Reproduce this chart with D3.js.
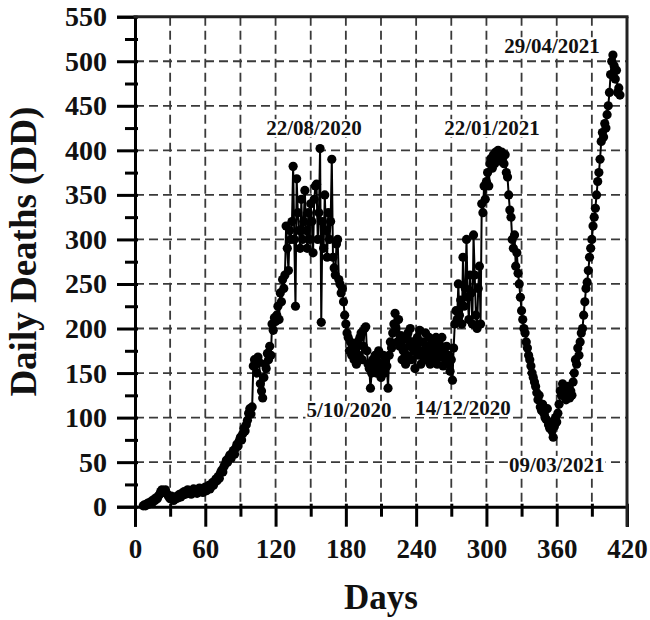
<!DOCTYPE html>
<html><head><meta charset="utf-8">
<script src="https://cdn.jsdelivr.net/npm/d3@7/dist/d3.min.js"></script>
<style>
body{margin:0;background:#fff}
svg{display:block}
text{font-family:"Liberation Serif","Times New Roman",serif;font-weight:bold;fill:#111}
</style>
</head><body>
<svg id="c" width="650" height="620"></svg>
<script>
// ---------------- data ----------------
const startDay = 7; // first day plotted (one value per day)
const deaths = [
  1, 2, 1, 3, 4, 3, 5, 6, 5, 8,            // 7-16
  7, 10, 9, 12, 14, 17, 19, 18, 16, 19,    // 17-26
  15, 13, 11, 9, 12, 8, 7, 10, 9, 12,      // 27-36
  10, 14, 11, 15, 13, 17, 14, 16, 19, 15,  // 37-46
  18, 14, 17, 20, 16, 19, 15, 18, 21, 17,  // 47-56
  20, 16, 19, 22, 18, 21, 24, 20, 23, 27,  // 57-66
  24, 28, 31, 29, 34, 32, 38, 41, 39, 45,  // 67-76
  48, 52, 50, 55, 58, 54, 60, 63, 59, 66,  // 77-86
  70, 68, 74, 78, 75, 82, 88, 85, 92, 97,  // 87-96
  105, 110, 104, 112, 158, 165, 160, 150, 168, 162, // 97-106
  138, 130, 122, 145, 160, 155, 172, 165, 180, 170, // 107-116
  205, 198, 212, 208, 215, 225, 210, 240, 230, 255, // 117-126
  245, 260, 315, 290, 265, 310, 300, 320, 382, 300, // 127-136
  225, 368, 330, 310, 290, 345, 300, 320, 355, 310, // 137-146
  290, 330, 300, 340, 320, 285, 345, 360, 362, 300, // 147-156
  330, 402, 207, 320, 290, 350, 310, 280, 330, 300, // 157-166
  320, 390, 280, 268, 260, 295, 300, 255, 250, 240, // 167-176
  245, 230, 215, 205, 195, 190, 175, 185, 170, 180, // 177-186
  165, 175, 160, 185, 170, 190, 195, 165, 180, 200, // 187-196
  202, 175, 160, 155, 133, 150, 165, 158, 170, 150, // 197-206
  162, 175, 155, 145, 160, 170, 150, 165, 158, 133, // 207-216
  170, 185, 178, 195, 205, 217, 200, 185, 210, 180, // 217-226
  192, 165, 175, 188, 160, 170, 195, 180, 200, 165, // 227-236
  185, 175, 155, 180, 190, 170, 198, 160, 175, 185, // 237-246
  165, 195, 180, 170, 190, 160, 178, 165, 185, 172, // 247-256
  190, 160, 175, 182, 168, 190, 158, 175, 165, 180, // 257-266
  160, 170, 152, 165, 142, 178, 205, 220, 210, 250, // 267-276
  215, 232, 205, 280, 225, 245, 300, 235, 210, 260, // 277-286
  240, 205, 305, 260, 215, 200, 245, 270, 205, 340, // 287-296
  330, 360, 345, 365, 375, 360, 385, 391, 380, 395, // 297-306
  385, 398, 390, 400, 397, 388, 398, 392, 385, 395, // 307-316
  375, 370, 350, 333, 325, 300, 290, 305, 270, 285, // 317-326
  262, 250, 235, 220, 210, 200, 195, 185, 178, 170, // 327-336
  165, 158, 150, 145, 140, 135, 128, 120, 125, 112, // 337-346
  108, 115, 105, 100, 98, 110, 92, 88, 95, 85,      // 347-356
  78, 90, 100, 95, 105, 115, 130, 125, 138, 132,    // 357-366
  125, 120, 135, 128, 122, 130, 125, 140, 150, 165, // 367-376
  160, 178, 170, 185, 195, 200, 215, 230, 245, 252, // 377-386
  265, 280, 290, 300, 315, 325, 335, 350, 365, 375, // 387-396
  390, 410, 420, 415, 430, 425, 440, 450, 465, 485, // 397-406
  500, 507, 495, 480, 490, 465, 470, 462            // 407-414
];
const xMajorTicks = [0, 60, 120, 180, 240, 300, 360, 420];
const xMinorTicks = [30, 90, 150, 210, 270, 330, 390];
const yMajorTicks = [0, 50, 100, 150, 200, 250, 300, 350, 400, 450, 500, 550];
const yMinorTicks = [25, 75, 125, 175, 225, 275, 325, 375, 425, 475, 525];
const xGridValues = [30, 60, 90, 120, 150, 180, 210, 240, 270, 300, 330, 360, 390];
const yGridValues = [50, 100, 150, 200, 250, 300, 350, 400, 450, 500];
const annotationLabels = ["22/08/2020", "22/01/2021", "29/04/2021", "5/10/2020", "14/12/2020", "09/03/2021"];
const annotationDays   = [152.8, 304.8, 356, 182.7, 280, 360];
const annotationValues = [417, 417, 509, 100.8, 103, 39];
const xTitle = "Days";
const yTitle = "Daily Deaths (DD)";

// ---------------- chart ----------------
const svg = d3.select("#c");
const L = 135, R = 627, T = 16.7, B = 506.7;
const x = d3.scaleLinear().domain([0, 420]).range([L, R]);
const y = d3.scaleLinear().domain([0, 550]).range([B, T]);
const points = deaths.map((v, i) => ({d: startDay + i, v}));

// grid
const grid = svg.append("g").attr("stroke", "#3a3a3a").attr("stroke-width", 1.8).attr("stroke-dasharray", "9,5");
grid.selectAll(".gx").data(xGridValues).join("line")
  .attr("x1", d => x(d)).attr("x2", d => x(d)).attr("y1", T).attr("y2", B);
grid.selectAll(".gy").data(yGridValues).join("line")
  .attr("y1", d => y(d)).attr("y2", d => y(d)).attr("x1", L).attr("x2", R);

// data
svg.append("path").datum(points)
  .attr("fill", "none").attr("stroke", "#000").attr("stroke-width", 2)
  .attr("d", d3.line().x(p => x(p.d)).y(p => y(p.v)));
svg.append("g").selectAll("circle").data(points).join("circle")
  .attr("cx", p => x(p.d)).attr("cy", p => y(p.v)).attr("r", 4.6).attr("fill", "#000");

// annotations with white background
const ann = svg.append("g");
annotationLabels.forEach((t, i) => {
  const g = ann.append("g");
  const txt = g.append("text").attr("x", x(annotationDays[i])).attr("y", y(annotationValues[i]))
    .attr("text-anchor", "middle").attr("font-size", 21).text(t);
  const bb = txt.node().getBBox();
  g.insert("rect", "text").attr("x", bb.x - 1).attr("y", bb.y + 3).attr("width", bb.width + 2).attr("height", bb.height - 6).attr("fill", "#fff");
});

// axes
const gx = svg.append("g").attr("transform", `translate(0,${B})`)
  .call(d3.axisBottom(x).tickValues(xMajorTicks).tickSize(20).tickPadding(12).tickFormat(d3.format("d")));
gx.selectAll(".tick line").attr("y1", -3);
const gxm = svg.append("g").attr("transform", `translate(0,${B})`)
  .call(d3.axisBottom(x).tickValues(xMinorTicks).tickSize(10).tickFormat(""));
gxm.selectAll(".tick line").attr("y1", -3);
gxm.select(".domain").remove();
const gy = svg.append("g").attr("transform", `translate(${L},0)`)
  .call(d3.axisLeft(y).tickValues(yMajorTicks).tickSize(18).tickPadding(10).tickFormat(d3.format("d")));
gy.selectAll(".tick line").attr("x1", 3);
const gym = svg.append("g").attr("transform", `translate(${L},0)`)
  .call(d3.axisLeft(y).tickValues(yMinorTicks).tickSize(10).tickFormat(""));
gym.selectAll(".tick line").attr("x1", 3);
gym.select(".domain").remove();
[gx, gxm, gy, gym].forEach(g => {
  g.selectAll("line, path").attr("stroke", "#000").attr("stroke-width", 3);
});
gx.selectAll("text").attr("font-size", 27).attr("font-family", null).attr("fill", "#111");
gy.selectAll("text").attr("font-size", 28).attr("font-family", null).attr("fill", "#111");

// frame top/right
svg.append("line").attr("x1", L - 1.5).attr("x2", R + 1.5).attr("y1", T).attr("y2", T).attr("stroke", "#222").attr("stroke-width", 3);
svg.append("line").attr("x1", R).attr("x2", R).attr("y1", T).attr("y2", B + 20).attr("stroke", "#222").attr("stroke-width", 3);

// titles
svg.append("text").attr("x", (L + R) / 2).attr("y", 609).attr("text-anchor", "middle").attr("font-size", 35).text(xTitle);
svg.append("text").attr("transform", `translate(36,${(T + B) / 2 - 10}) rotate(-90)`).attr("text-anchor", "middle").attr("font-size", 37).text(yTitle);
</script>
</body></html>
